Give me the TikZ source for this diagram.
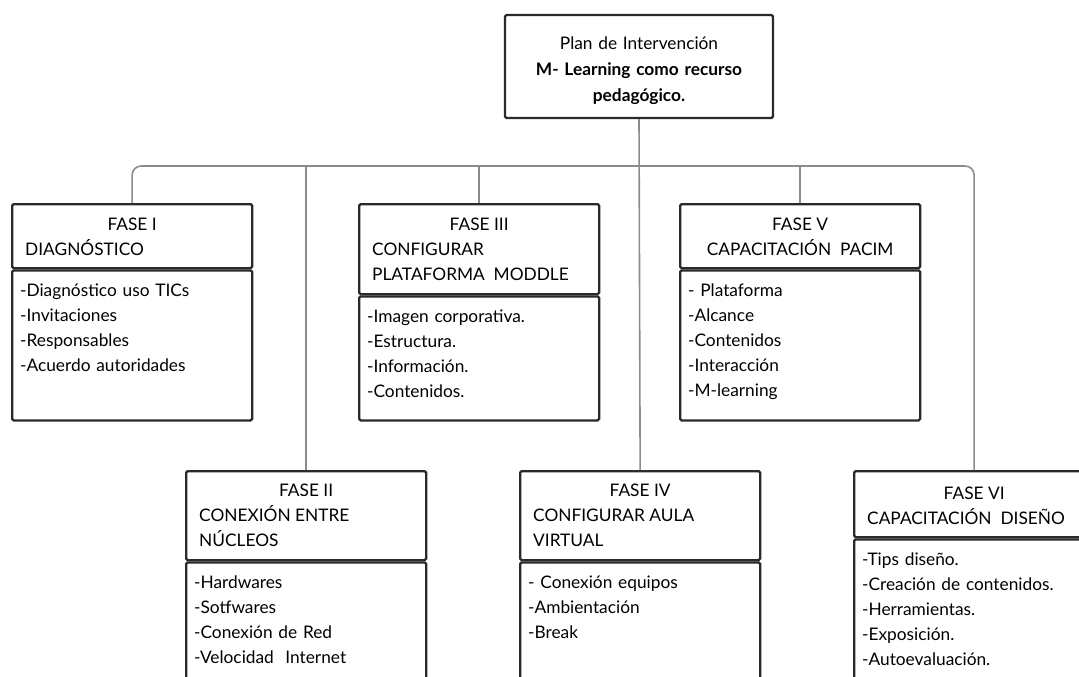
\documentclass[tikz,border=0pt]{standalone}
\usepackage{fontspec}
\setmainfont{Lato}
\usetikzlibrary{positioning}

\definecolor{borde}{HTML}{2A2A2A}
\definecolor{gris}{HTML}{8C8C8C}

\tikzset{
  caja/.style={draw=borde, line width=2.3pt, rounded corners=1.5pt, font=\fontsize{17.3}{25}\selectfont},
  cabeza/.style={caja, minimum width=240pt, anchor=north west},
  cuerpo/.style={caja, text width=224pt, inner xsep=8pt, inner ysep=0pt, align=left, anchor=north, text height=26pt},
  titulo/.style={font=\fontsize{17.3}{25}\selectfont, inner sep=0pt, anchor=base},
  renglon/.style={font=\fontsize{17.3}{25}\selectfont, inner sep=0pt, anchor=base west},
  enlace/.style={draw=gris, line width=1.6pt},
}

\begin{document}
\begin{tikzpicture}[x=1pt, y=-1pt]
\useasboundingbox (0,0) rectangle (1079,677);
\clip (0,0) rectangle (1079,677);
\fill[white] (0,0) rectangle (1079,677);

\node[caja, font=\fontsize{17.3}{26}\selectfont, text width=250pt, inner xsep=9pt, align=center,
      minimum height=103pt, text height=24pt, text depth=57pt] (raiz) at (639,66.5)
  {Plan de Intervención\\\bfseries M- Learning como recurso\\\bfseries pedagógico.};

% fila de arriba
\node[cabeza, minimum height=64pt] (h1) at (11,203) {};
\node[titulo] (h1t) at ([yshift=-27pt]h1.north) {FASE I};
\node[renglon] (h1a) at ([shift={(14pt,-52pt)}]h1.north west) {DIAGNÓSTICO};
\node[cuerpo, text depth=124pt] (b1) at (h1.south) {-Diagnóstico uso TICs\\-Invitaciones\\-Responsables\\-Acuerdo autoridades};

\node[cabeza, minimum height=90pt] (h3) at (358,203) {};
\node[titulo] (h3t) at ([yshift=-27pt]h3.north) {FASE III};
\node[renglon] (h3a) at ([shift={(14pt,-52pt)}]h3.north west) {CONFIGURAR};
\node[renglon] (h3b) at ([shift={(14pt,-77pt)}]h3.north west) {PLATAFORMA~~MODDLE};
\node[cuerpo, text depth=98pt] (b3) at (h3.south) {-Imagen corporativa.\\-Estructura.\\-Información.\\-Contenidos.};

\node[cabeza, minimum height=64pt] (h5) at (679,203) {};
\node[titulo] (h5t) at ([yshift=-27pt]h5.north) {FASE V};
\node[titulo] (h5a) at ([yshift=-52pt]h5.north) {CAPACITACIÓN~~PACIM};
\node[cuerpo, text depth=124pt] (b5) at (h5.south) {- Plataforma\\-Alcance\\-Contenidos\\-Interacción\\-M-learning};

% fila de abajo
\node[cabeza, minimum height=89pt] (h2) at (185,470) {};
\node[titulo] (h2t) at ([yshift=-26pt]h2.north) {FASE II};
\node[renglon] (h2a) at ([shift={(14pt,-51pt)}]h2.north west) {CONEXIÓN ENTRE};
\node[renglon] (h2b) at ([shift={(14pt,-76pt)}]h2.north west) {NÚCLEOS};
\node[cuerpo, text depth=150pt] (b2) at (h2.south) {-Hardwares\\-Sotfwares\\-Conexión de Red\\-Velocidad~~Internet};

\node[cabeza, minimum height=89pt] (h4) at (519,470) {};
\node[titulo] (h4t) at ([yshift=-26pt]h4.north) {FASE IV};
\node[renglon] (h4a) at ([shift={(14pt,-51pt)}]h4.north west) {CONFIGURAR AULA};
\node[renglon] (h4b) at ([shift={(14pt,-76pt)}]h4.north west) {VIRTUAL};
\node[cuerpo, text depth=150pt] (b4) at (h4.south) {- Conexión equipos\\-Ambientación\\-Break};

\node[cabeza, minimum height=66pt] (h6) at (853,470) {};
\node[titulo] (h6t) at ([yshift=-29pt]h6.north) {FASE VI};
\node[renglon] (h6a) at ([shift={(14pt,-54pt)}]h6.north west) {CAPACITACIÓN~~DISEÑO};
\node[cuerpo, text depth=150pt] (b6) at (h6.south) {-Tips diseño.\\-Creación de contenidos.\\-Herramientas.\\-Exposición.\\-Autoevaluación.};

% enlaces
\coordinate (bus) at (639,166);
\draw[enlace, rounded corners=9pt] (h1.north) |- (bus) -| (h6.north);
\draw[enlace] (raiz.south) -- (h4.north);
\foreach \f in {h2,h3,h5}
  \draw[enlace] (\f.north) -- (\f.north |- bus);
\end{tikzpicture}
\end{document}
